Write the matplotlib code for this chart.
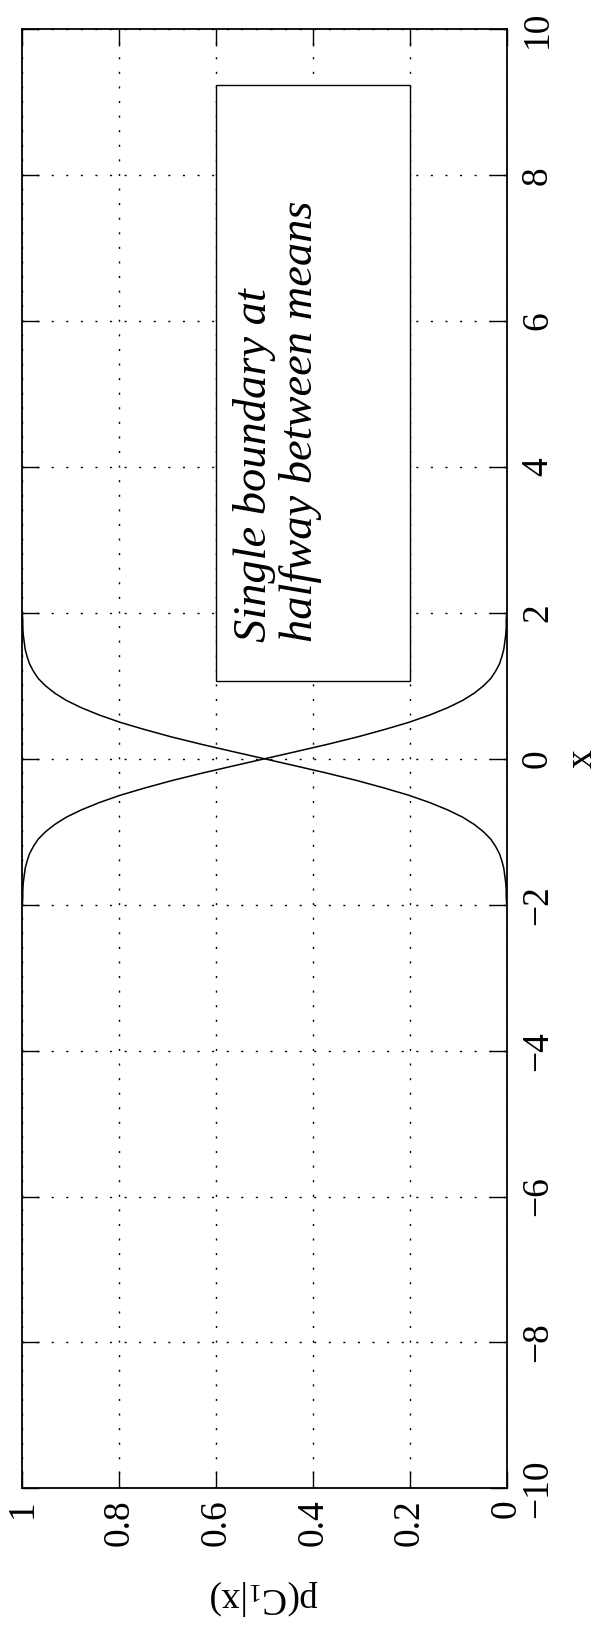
import matplotlib
matplotlib.use('Agg')
import matplotlib.pyplot as plt
import numpy as np
from matplotlib.patches import Rectangle

plt.rcParams['font.family'] = 'Liberation Serif'
plt.rcParams['mathtext.fontset'] = 'custom'
plt.rcParams['mathtext.rm'] = 'Liberation Serif'
plt.rcParams['mathtext.it'] = 'Liberation Serif:italic'

# posterior curves sampled on x = -2 .. 2 (step 0.1)
x = np.linspace(-2, 2, 41)
p_c1 = [1.000, 0.999, 0.999, 0.998, 0.996, 0.994, 0.990, 0.985, 0.977, 0.967,
        0.952, 0.933, 0.909, 0.878, 0.841, 0.798, 0.747, 0.692, 0.631, 0.566,
        0.500, 0.434, 0.369, 0.308, 0.253, 0.202, 0.159, 0.122, 0.091, 0.067,
        0.048, 0.033, 0.023, 0.015, 0.010, 0.006, 0.004, 0.002, 0.001, 0.001,
        0.000]
p_c2 = [0.000, 0.001, 0.001, 0.002, 0.004, 0.006, 0.010, 0.015, 0.023, 0.033,
        0.048, 0.067, 0.091, 0.122, 0.159, 0.202, 0.253, 0.308, 0.369, 0.434,
        0.500, 0.566, 0.631, 0.692, 0.747, 0.798, 0.841, 0.878, 0.909, 0.933,
        0.952, 0.967, 0.977, 0.985, 0.990, 0.994, 0.996, 0.998, 0.999, 0.999,
        1.000]

x_ticks = [-10, -8, -6, -4, -2, 0, 2, 4, 6, 8, 10]
p_ticks = [0, 0.2, 0.4, 0.6, 0.8, 1]
p_ticklabels = ['0', '0.2', '0.4', '0.6', '0.8', '1']

# the whole plot is turned on its side: x runs up the page, p runs right-to-left
fig = plt.figure(figsize=(6.04, 16.3), dpi=100)
ax = fig.add_axes([22.3 / 604, (1630 - 1488.3) / 1630, 484.4 / 604, 1459 / 1630])

ax.plot(p_c1, x, color='k', lw=1.1)
ax.plot(p_c2, x, color='k', lw=1.1)

ax.set_xlim(1, 0)
ax.set_ylim(-10, 10)
ax.set_xticks(p_ticks)
ax.set_xticklabels(p_ticklabels, rotation=90)
ax.set_yticks(x_ticks)
ax.set_yticklabels([str(v).replace('-', '\u2212') for v in x_ticks], rotation=90, va='center')

ax.tick_params(direction='in', length=12, width=1, labelsize=27,
               top=True, bottom=True, left=True, right=True,
               labelleft=False, labelright=True)
ax.tick_params(axis='x', pad=8)
ax.tick_params(axis='y', pad=10)
for s in ax.spines.values():
    s.set_linewidth(1.3)

ax.grid(True, color='k', linestyle=(0, (1.5, 9)), linewidth=1)

ax.set_xlabel(r'p(C$_1$|x)', fontsize=27, rotation=180, labelpad=23)
ax.yaxis.set_label_position('right')
ax.set_ylabel('x', fontsize=27, rotation=90, labelpad=7)

# annotation box
ax.add_patch(Rectangle((0.2, 1.07), 0.4, 8.17, facecolor='white', edgecolor='k',
                       lw=1, zorder=3))
ax.text(0.565, 1.6, 'Single boundary at\nhalfway between means', rotation=90,
        rotation_mode='anchor', ha='left', va='top', fontsize=33.5,
        style='italic', linespacing=1.1, zorder=4)

fig.savefig('out.png', dpi=100)
